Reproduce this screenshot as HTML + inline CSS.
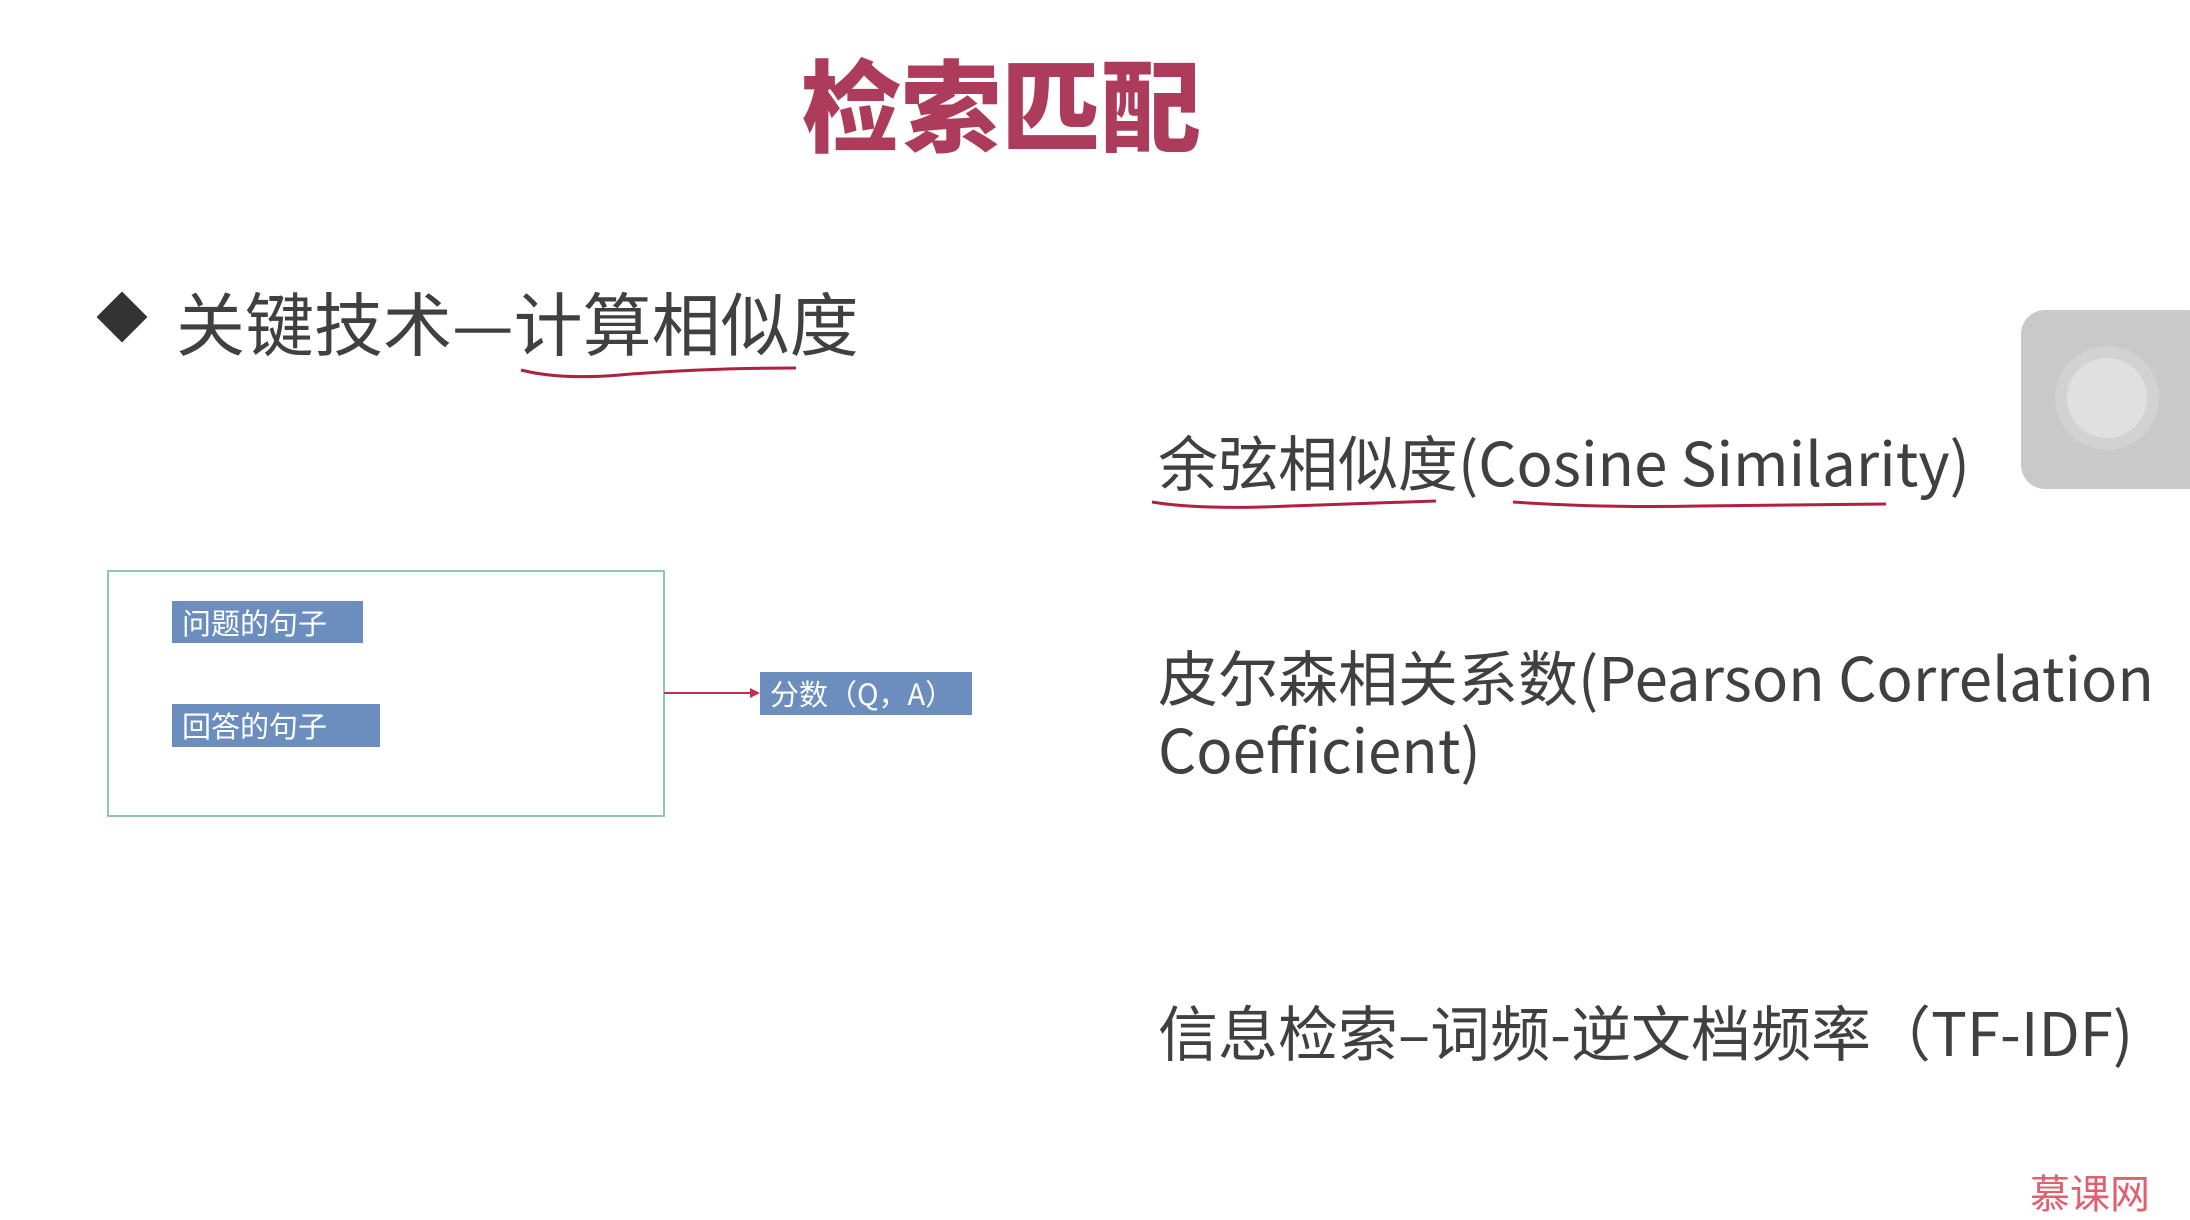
<!DOCTYPE html>
<html><head><meta charset="utf-8"><style>
body{margin:0;width:2190px;height:1210px;background:#fff;position:relative;overflow:hidden;font-family:"Liberation Sans","Noto Sans CJK SC",sans-serif}
.a{position:absolute;white-space:nowrap}
.t{font-family:"Noto Sans CJK SC",sans-serif;color:#404040;font-size:60px;line-height:72px;letter-spacing:0px}
.b{position:absolute;background:#6c8ebf;color:#fff;font-family:"Noto Sans CJK SC",sans-serif;font-size:29px;line-height:42px;padding-left:10px;box-sizing:border-box}
</style></head><body>
<div class="a" style="left:801px;top:34px;font-family:'Noto Sans CJK SC',sans-serif;font-weight:900;font-size:100px;line-height:134px;color:#ac3b5c">检索匹配</div>
<div class="a" style="left:104px;top:299px;width:36px;height:36px;background:#333;transform:rotate(45deg)"></div>
<div class="a" style="left:176px;top:274px;font-family:'Noto Sans CJK SC',sans-serif;font-size:69px;line-height:92px;color:#404040">关键技术—计算相似度</div>
<svg class="a" style="left:0;top:0" width="2190" height="1210">
<path d="M521 370 Q560 380 620 375 Q700 368 796 368" stroke="#b02040" stroke-width="3" fill="none"/>
<path d="M1152 502 Q1200 510 1290 506 Q1380 503 1436 501" stroke="#b02040" stroke-width="3" fill="none"/>
<path d="M1513 502 Q1600 508 1700 506 Q1800 505 1886 504" stroke="#b02040" stroke-width="3" fill="none"/>
<rect x="108" y="571" width="556" height="245" fill="none" stroke="#8fc8a8" stroke-width="2"/>
<line x1="664" y1="693" x2="752" y2="693" stroke="#c0304a" stroke-width="2"/>
<polygon points="760,693 750,688 750,698" fill="#c0304a"/>
<rect x="2021" y="310" width="190" height="179" rx="24" fill="#c9c9c9"/>
<circle cx="2107" cy="398" r="52" fill="#d2d2d2"/>
<circle cx="2107" cy="398" r="40" fill="#e0e0e0"/>
</svg>
<div class="b" style="left:172px;top:601px;width:191px;height:42px">问题的句子</div>
<div class="b" style="left:172px;top:704px;width:208px;height:43px">回答的句子</div>
<div class="b" style="left:760px;top:672px;width:212px;height:43px">分数（Q，A）</div>
<div class="a t" style="left:1158px;top:425px">余弦相似度(Cosine Similarity)</div>
<div class="a t" style="left:1158px;top:640px">皮尔森相关系数(Pearson Correlation<br>Coefficient)</div>
<div class="a t" style="left:1158px;top:995px">信息检索–词频-逆文档频率（TF-IDF)</div>
<div class="a" style="left:2030px;top:1162px;font-family:'Noto Sans CJK SC',sans-serif;font-size:40px;color:#e06070">慕课网</div>
</body></html>
